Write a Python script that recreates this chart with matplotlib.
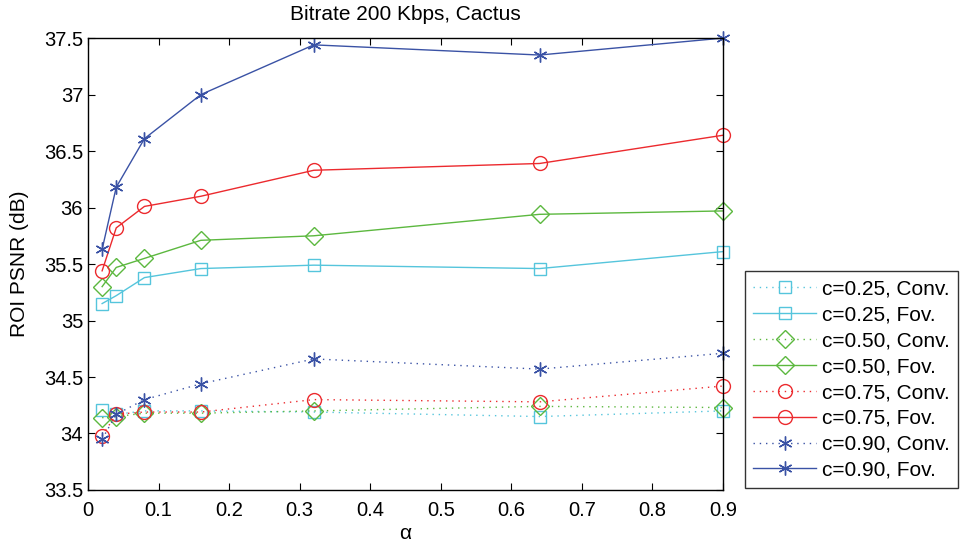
import matplotlib
matplotlib.use('Agg')
import matplotlib.pyplot as plt
from matplotlib.ticker import FormatStrFormatter
import numpy as np

plt.rcParams['font.family'] = ['Liberation Sans', 'DejaVu Sans']

alpha = [0.02, 0.04, 0.08, 0.16, 0.32, 0.64, 0.9]

# PSNR values
conv_025 = [34.21, 34.17, 34.20, 34.20, 34.19, 34.15, 34.20]
fov_025 = [35.15, 35.22, 35.38, 35.46, 35.49, 35.46, 35.61]
conv_050 = [34.14, 34.15, 34.18, 34.18, 34.20, 34.24, 34.23]
fov_050 = [35.30, 35.47, 35.55, 35.71, 35.75, 35.94, 35.97]
conv_075 = [33.98, 34.17, 34.19, 34.19, 34.30, 34.28, 34.42]
fov_075 = [35.44, 35.82, 36.01, 36.10, 36.33, 36.39, 36.64]
conv_090 = [33.95, 34.17, 34.30, 34.44, 34.66, 34.57, 34.71]
fov_090 = [35.63, 36.18, 36.61, 37.00, 37.44, 37.35, 37.50]

labels = ['c=0.25, Conv.', 'c=0.25, Fov.', 'c=0.50, Conv.', 'c=0.50, Fov.',
          'c=0.75, Conv.', 'c=0.75, Fov.', 'c=0.90, Conv.', 'c=0.90, Fov.']
series = [conv_025, fov_025, conv_050, fov_050, conv_075, fov_075, conv_090, fov_090]

colors = ['#55c5dc', '#5cb83f', '#ec2a2e', '#3a52a5']
markers = ['s', 'D', 'o', (6, 2, 0)]
msizes = [8.5, 9.5, 10, 10]

fig = plt.figure(figsize=(9.64, 5.44), dpi=100)
ax = fig.add_axes([0.0913, 0.0993, 0.6587, 0.8307])

for i in range(len(series)):
    k = i // 2
    ls = (0, (1, 3.5)) if i % 2 == 0 else '-'
    ax.plot(alpha, series[i], linestyle=ls, color=colors[k], marker=markers[k],
            markersize=msizes[k], markerfacecolor='none',
            markeredgecolor=colors[k], markeredgewidth=1.0, linewidth=1.0,
            label=labels[i], clip_on=False)

ax.set_xlim(0, 0.9)
ax.set_ylim(33.5, 37.5)
ax.set_xticks(np.arange(0, 0.91, 0.1))
ax.set_yticks(np.arange(33.5, 37.51, 0.5))
ax.xaxis.set_major_formatter(FormatStrFormatter('%g'))
ax.yaxis.set_major_formatter(FormatStrFormatter('%g'))
ax.tick_params(direction='in', top=True, right=True, labelsize=14.5, length=5)
ax.tick_params(axis='x', pad=8)
for s in ax.spines.values():
    s.set_linewidth(1.0)

ax.set_title('Bitrate 200 Kbps, Cactus', fontsize=15, pad=13)
ax.set_xlabel('α', fontsize=15, labelpad=3)
ax.set_ylabel('ROI PSNR (dB)', fontsize=15, labelpad=11)

leg = fig.legend(loc='lower left', bbox_to_anchor=(0.7728, 0.1029), fontsize=15,
                 frameon=True, fancybox=False, edgecolor='black',
                 handlelength=3.0, handletextpad=0.3, labelspacing=0.33,
                 borderpad=0.4, borderaxespad=0)
leg.get_frame().set_linewidth(1.0)

fig.savefig('out.png', dpi=100)
